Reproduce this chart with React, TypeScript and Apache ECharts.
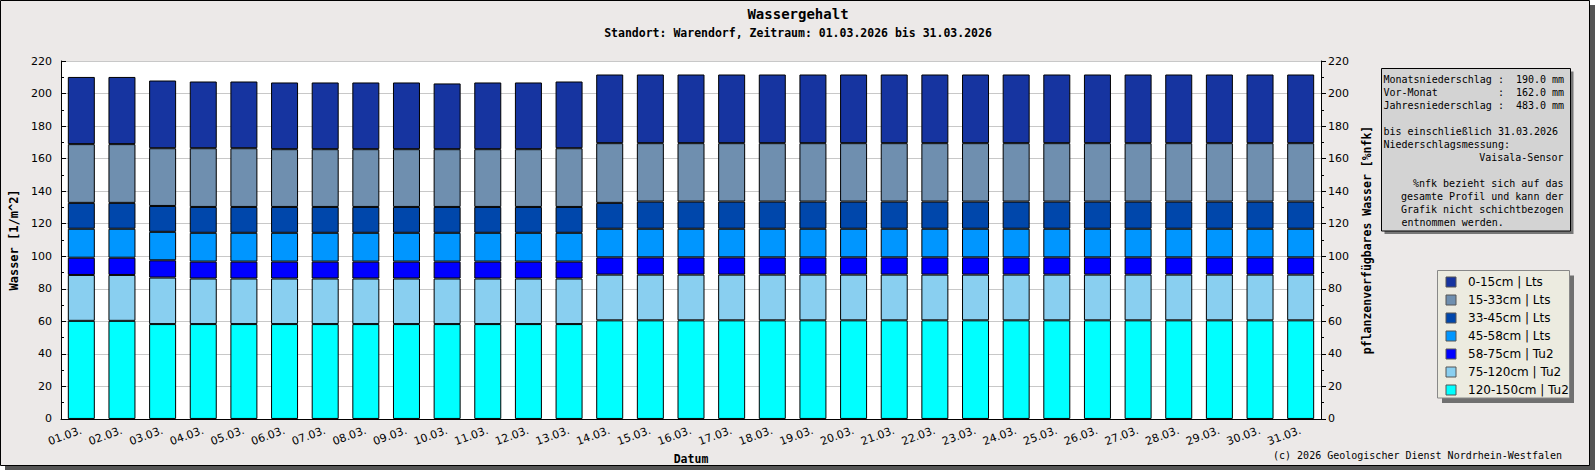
import React, { useEffect, useRef } from 'react';
import * as echarts from 'echarts';

const days = [
    '01.03.', '02.03.', '03.03.', '04.03.', '05.03.', '06.03.', '07.03.', '08.03.',
    '09.03.', '10.03.', '11.03.', '12.03.', '13.03.', '14.03.', '15.03.', '16.03.',
    '17.03.', '18.03.', '19.03.', '20.03.', '21.03.', '22.03.', '23.03.', '24.03.',
    '25.03.', '26.03.', '27.03.', '28.03.', '29.03.', '30.03.', '31.03.'
];

// layer values in l/m^2, bottom layer first
const layer120_150 = [60.3, 60.3, 58.3, 58.3, 58.3, 58.3, 58.3, 58.3, 58.3, 58.3, 58.3, 58.3, 58.3, 60.6, 60.6, 60.6, 60.6, 60.6, 60.6, 60.6, 60.6, 60.6, 60.6, 60.6, 60.6, 60.6, 60.6, 60.6, 60.6, 60.6, 60.6];
const layer75_120 = [28.2, 28.2, 28.6, 28.0, 28.0, 28.0, 28.0, 28.0, 28.0, 28.0, 28.0, 28.0, 28.0, 28.1, 28.1, 28.1, 28.1, 28.1, 28.1, 28.1, 28.1, 28.1, 28.1, 28.1, 28.1, 28.1, 28.1, 28.1, 28.1, 28.1, 28.1];
const layer58_75 = [10.6, 10.6, 10.6, 10.4, 10.4, 10.4, 10.4, 10.4, 10.4, 10.4, 10.4, 10.4, 10.4, 10.6, 10.6, 10.6, 10.6, 10.6, 10.6, 10.6, 10.6, 10.6, 10.6, 10.6, 10.6, 10.6, 10.6, 10.6, 10.6, 10.6, 10.6];
const layer45_58 = [17.8, 17.8, 17.5, 17.7, 17.7, 17.7, 17.7, 17.7, 17.7, 17.7, 17.7, 17.7, 17.7, 17.6, 17.6, 17.6, 17.6, 17.6, 17.6, 17.6, 17.6, 17.6, 17.6, 17.6, 17.6, 17.6, 17.6, 17.6, 17.6, 17.6, 17.6];
const layer33_45 = [15.9, 15.9, 15.9, 15.9, 15.9, 15.9, 15.9, 15.9, 15.9, 15.9, 15.9, 15.9, 15.9, 15.9, 16.7, 16.7, 16.7, 16.7, 16.7, 16.7, 16.7, 16.7, 16.7, 16.7, 16.7, 16.7, 16.7, 16.7, 16.7, 16.7, 16.7];
const layer15_33 = [36.1, 36.1, 35.5, 36.1, 36.1, 35.5, 35.5, 35.5, 35.5, 35.5, 35.5, 35.5, 36.1, 36.7, 35.9, 35.9, 35.9, 35.9, 35.9, 35.9, 35.9, 35.9, 35.9, 35.9, 35.9, 35.9, 35.9, 35.9, 35.9, 35.9, 35.9];
const layer0_15 = [41.3, 41.3, 41.6, 41.0, 41.0, 41.0, 41.0, 41.0, 41.0, 40.4, 41.0, 41.0, 41.0, 42.2, 42.2, 42.2, 42.2, 42.2, 42.2, 42.2, 42.2, 42.2, 42.2, 42.2, 42.2, 42.2, 42.2, 42.2, 42.2, 42.2, 42.2];

const layerNames = ['120-150cm | Tu2', '75-120cm | Tu2', '58-75cm | Tu2', '45-58cm | Lts', '33-45cm | Lts', '15-33cm | Lts', '0-15cm | Lts'];
const layerColors = ['#00ffff', '#89cff0', '#0000ff', '#0096ff', '#0047ab', '#6f8faf', '#1634a0'];
const layerValues = [layer120_150, layer75_120, layer58_75, layer45_58, layer33_45, layer15_33, layer0_15];

const yTicks = { min: 0, max: 220, interval: 20 };

const MONO = '"DejaVu Sans Mono", monospace';
const SANS = '"DejaVu Sans", sans-serif';

const WasserChart: React.FC = () => {
    const chartRef = useRef<HTMLDivElement>(null);

    useEffect(() => {
        document.body.style.margin = '0';
        if (!chartRef.current) return;
        const chart = echarts.init(chartRef.current, undefined, { renderer: 'svg' });

        const infoText = (text: string, x: number, y: number, align: string = 'left') => ({
            type: 'text', x, y, z: 20,
            style: { text, fill: '#000', font: '10px ' + MONO, textAlign: align, textVerticalAlign: 'middle' }
        });
        const cw = 6.02;
        const ix = 1383.5;

        const option: any = {
            animation: false,
            backgroundColor: 'transparent',
            grid: { left: 61, right: 274, top: 61, bottom: 50, show: true, backgroundColor: '#ffffff', borderWidth: 0 },
            legend: {
                data: layerNames.slice().reverse(),
                orient: 'vertical',
                left: 1445.5,
                top: 276,
                padding: 0,
                itemWidth: 10,
                itemHeight: 10,
                itemGap: 6,
                icon: 'rect',
                itemStyle: { borderColor: '#555', borderWidth: 1 },
                textStyle: { fontSize: 12, lineHeight: 12, fontFamily: SANS, color: '#000', padding: [0, 0, 0, 7] },
                z: 10
            },
            xAxis: {
                type: 'category',
                data: days,
                name: 'Datum',
                nameLocation: 'middle',
                nameGap: 31,
                nameTextStyle: { fontFamily: MONO, fontWeight: 'bold', fontSize: 11.5, color: '#000' },
                axisLine: { lineStyle: { color: '#000', width: 1 } },
                axisTick: { inside: true, length: 5, lineStyle: { color: '#000' } },
                axisLabel: { interval: 0, rotate: 20, fontSize: 11, fontFamily: SANS, color: '#000', margin: 11 }
            },
            yAxis: [
                {
                    type: 'value',
                    ...yTicks,
                    name: 'Wasser [1/m^2]',
                    nameLocation: 'middle',
                    nameRotate: 90,
                    nameGap: 41,
                    nameTextStyle: { fontFamily: MONO, fontWeight: 'bold', fontSize: 12, color: '#000' },
                    axisLine: { show: true, lineStyle: { color: '#000', width: 1 } },
                    axisTick: { show: true, inside: true, length: 5, lineStyle: { color: '#000' } },
                    minorTick: { show: true, splitNumber: 2, length: 3, lineStyle: { color: '#000' } },
                    axisLabel: { fontSize: 11, fontFamily: SANS, color: '#000', margin: 9 },
                    splitLine: { show: true, lineStyle: { color: '#c8c8c8', width: 1 } }
                },
                {
                    type: 'value',
                    ...yTicks,
                    position: 'right',
                    name: 'pflanzenverfügbares Wasser [%nfk]',
                    nameLocation: 'middle',
                    nameRotate: 90,
                    nameGap: 40,
                    nameTextStyle: { fontFamily: MONO, fontWeight: 'bold', fontSize: 11.5, color: '#000' },
                    axisLine: { show: true, lineStyle: { color: '#000', width: 1 } },
                    axisTick: { show: true, inside: false, length: 5, lineStyle: { color: '#000' } },
                    minorTick: { show: true, splitNumber: 2, length: 3, lineStyle: { color: '#000' } },
                    axisLabel: { fontSize: 11, fontFamily: SANS, color: '#000', margin: 7 },
                    splitLine: { show: false }
                }
            ],
            series: layerNames.map((name, i) => ({
                name,
                type: 'bar',
                stack: 'profil',
                data: layerValues[i],
                barWidth: 27,
                itemStyle: { color: layerColors[i], borderColor: '#000', borderWidth: 1 }
            })),
            graphic: [
                // outer frame with shadow
                { type: 'rect', z: -100, shape: { x: 5, y: 5, width: 1590, height: 465 }, style: { fill: '#555' } },
                { type: 'rect', z: -99, shape: { x: 0.5, y: 0.5, width: 1589, height: 465 }, style: { fill: '#ece9e8', stroke: '#000', lineWidth: 1 } },
                // titles
                { type: 'text', x: 798, y: 14, z: 20, style: { text: 'Wassergehalt', font: 'bold 14px ' + MONO, fill: '#000', textAlign: 'center', textVerticalAlign: 'middle' } },
                { type: 'text', x: 798, y: 33, z: 20, style: { text: 'Standort: Warendorf, Zeitraum: 01.03.2026 bis 31.03.2026', font: 'bold 11.5px ' + MONO, fill: '#000', textAlign: 'center', textVerticalAlign: 'middle' } },
                // info box
                { type: 'rect', z: 5, shape: { x: 1384.5, y: 71.5, width: 189, height: 162.5 }, style: { fill: '#777' } },
                { type: 'rect', z: 6, shape: { x: 1381.5, y: 68.5, width: 189, height: 162.5 }, style: { fill: '#d3d3d3', stroke: '#000', lineWidth: 1 } },
                infoText('Monatsniederschlag', ix, 79.5),
                infoText(':', ix + 19 * cw, 79.5),
                infoText('190.0 mm', ix + 22 * cw, 79.5),
                infoText('Vor-Monat', ix, 92.5),
                infoText(':', ix + 19 * cw, 92.5),
                infoText('162.0 mm', ix + 22 * cw, 92.5),
                infoText('Jahresniederschlag', ix, 105.5),
                infoText(':', ix + 19 * cw, 105.5),
                infoText('483.0 mm', ix + 22 * cw, 105.5),
                infoText('bis einschließlich 31.03.2026', ix, 131.5),
                infoText('Niederschlagsmessung:', ix, 144.5),
                infoText('Vaisala-Sensor', 1563.5, 157.5, 'right'),
                infoText('%nfk bezieht sich auf das', 1563.5, 183.5, 'right'),
                infoText('gesamte Profil und kann der', 1563.5, 196.5, 'right'),
                infoText('Grafik nicht schichtbezogen', 1563.5, 209.5, 'right'),
                infoText('entnommen werden.', 1401.5, 222.5),
                // legend box
                { type: 'rect', z: 5, shape: { x: 1442, y: 275.5, width: 132, height: 127.5 }, style: { fill: '#707070' } },
                { type: 'rect', z: 6, shape: { x: 1437.5, y: 270.5, width: 132, height: 127.5 }, style: { fill: '#ecebe0', stroke: '#888', lineWidth: 1 } },
                // footer
                infoText('(c) 2026 Geologischer Dienst Nordrhein-Westfalen', 1562, 455, 'right')
            ]
        };
        chart.setOption(option);

        return () => {
            chart.dispose();
        };
    }, []);

    return (
        <div>
            <div ref={chartRef} style={{ width: '1595px', height: '470px' }} />
        </div>
    );
};

export default function App() {
    return <WasserChart />;
}
